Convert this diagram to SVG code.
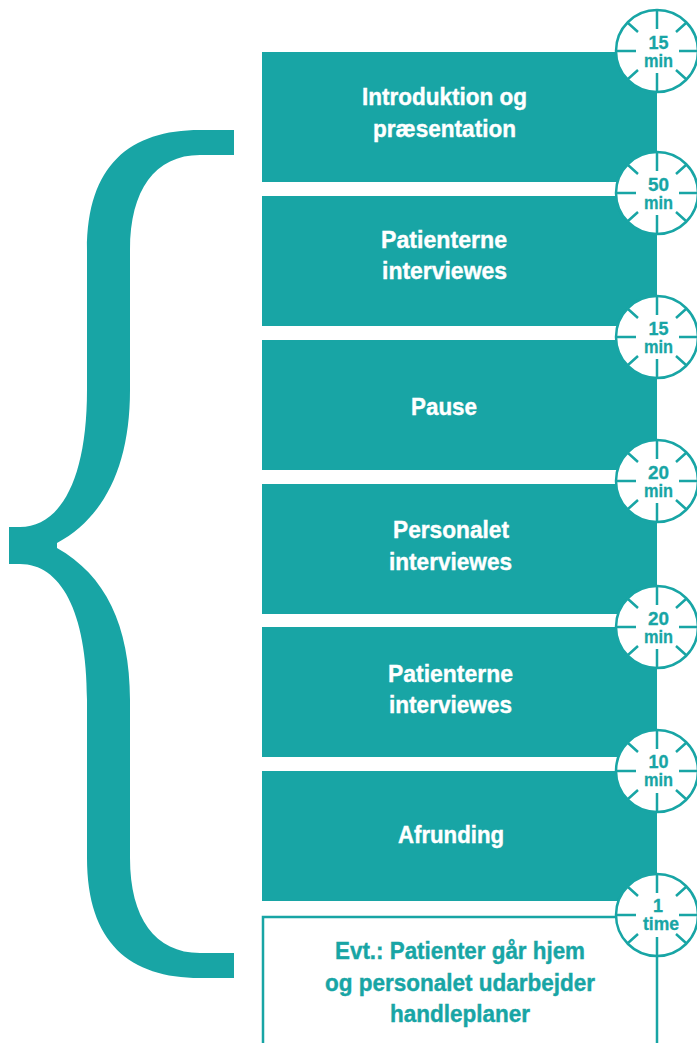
<svg xmlns="http://www.w3.org/2000/svg" xmlns:xlink="http://www.w3.org/1999/xlink" width="697" height="1043" viewBox="0 0 697 1043">
<style>
.b{fill:#18a5a5}
.t{font-family:"Liberation Sans",Arial,sans-serif;font-weight:700;font-size:24px;text-anchor:middle;fill:#fff;stroke:#fff;stroke-width:.4}
.g{fill:#18a5a5;stroke:#18a5a5}
.c{font-family:"Liberation Sans",Arial,sans-serif;font-weight:700;font-size:18px;text-anchor:middle;fill:#18a5a5;stroke:#18a5a5;stroke-width:.3}
.l{stroke:#18a5a5;stroke-width:2.5;fill:none}
</style>
<defs>
<g id="clock">
<circle r="41" fill="#fff" stroke="#18a5a5" stroke-width="2.5"/>
<path class="l" d="M0-41V-22M0 41V22M-41 0H-21M41 0H22M-29-28L-19-19M29-28L19-19M-29 28L-19 19M29 28L19 19"/>
</g>
</defs>
<rect width="697" height="1043" fill="#fff"/>
<g id="brace"><path class="b" d="M234 130H200C130 130 87 165 87 250V390C87 480 60 527 20 527H9V564H20C60 564 87 610 87 700V858C87 943 130 978 200 978H234V953H200C155 953 130 918 130 858V700C130 625 105 575 57 548V543C105 517 130 465 130 390V250C130 190 155 155 200 155H234Z"/></g>
<g id="n1"><rect class="b" x="262" y="52" width="395" height="130"/><text class="t" x="444.5" y="105" textLength="165" lengthAdjust="spacingAndGlyphs">Introduktion og</text><text class="t" x="444.5" y="137" textLength="143" lengthAdjust="spacingAndGlyphs">præsentation</text></g>
<g id="n2"><rect class="b" x="262" y="196" width="395" height="130"/><text class="t" x="444" y="248" textLength="126" lengthAdjust="spacingAndGlyphs">Patienterne</text><text class="t" x="444.5" y="279" textLength="125" lengthAdjust="spacingAndGlyphs">interviewes</text></g>
<g id="n3"><rect class="b" x="262" y="340" width="395" height="130"/><text class="t" x="444" y="415" textLength="66" lengthAdjust="spacingAndGlyphs">Pause</text></g>
<g id="n4"><rect class="b" x="262" y="484" width="395" height="130"/><text class="t" x="451" y="538" textLength="116" lengthAdjust="spacingAndGlyphs">Personalet</text><text class="t" x="450.5" y="570" textLength="123" lengthAdjust="spacingAndGlyphs">interviewes</text></g>
<g id="n5"><rect class="b" x="262" y="627" width="395" height="130"/><text class="t" x="450.5" y="682" textLength="125" lengthAdjust="spacingAndGlyphs">Patienterne</text><text class="t" x="450.5" y="713" textLength="123" lengthAdjust="spacingAndGlyphs">interviewes</text></g>
<g id="n6"><rect class="b" x="262" y="771" width="395" height="130"/><text class="t" x="451" y="843" textLength="106" lengthAdjust="spacingAndGlyphs">Afrunding</text></g>
<g id="n7"><path class="l" d="M263 1043V917H657V1043"/><text class="t g" x="460" y="959" textLength="250" lengthAdjust="spacingAndGlyphs">Evt.: Patienter går hjem</text><text class="t g" x="460" y="991" textLength="270" lengthAdjust="spacingAndGlyphs">og personalet udarbejder</text><text class="t g" x="460" y="1022" textLength="140" lengthAdjust="spacingAndGlyphs">handleplaner</text></g>
<g id="connectors"></g>
<g id="c1"><use xlink:href="#clock" x="657" y="51"/><text class="c" x="658.5" y="49" textLength="20" lengthAdjust="spacingAndGlyphs">15</text><text class="c" x="658.5" y="67" textLength="29" lengthAdjust="spacingAndGlyphs">min</text></g>
<g id="c2"><use xlink:href="#clock" x="657" y="193"/><text class="c" x="658.5" y="190.5" textLength="21" lengthAdjust="spacingAndGlyphs">50</text><text class="c" x="658.5" y="208.5" textLength="29" lengthAdjust="spacingAndGlyphs">min</text></g>
<g id="c3"><use xlink:href="#clock" x="657" y="337"/><text class="c" x="658.5" y="334.5" textLength="20" lengthAdjust="spacingAndGlyphs">15</text><text class="c" x="658.5" y="352.5" textLength="29" lengthAdjust="spacingAndGlyphs">min</text></g>
<g id="c4"><use xlink:href="#clock" x="657" y="481"/><text class="c" x="658.5" y="478.5" textLength="21" lengthAdjust="spacingAndGlyphs">20</text><text class="c" x="658.5" y="496.5" textLength="29" lengthAdjust="spacingAndGlyphs">min</text></g>
<g id="c5"><use xlink:href="#clock" x="657" y="627"/><text class="c" x="658.5" y="624.5" textLength="21" lengthAdjust="spacingAndGlyphs">20</text><text class="c" x="658.5" y="642.5" textLength="29" lengthAdjust="spacingAndGlyphs">min</text></g>
<g id="c6"><use xlink:href="#clock" x="657" y="771"/><text class="c" x="658.5" y="768" textLength="20" lengthAdjust="spacingAndGlyphs">10</text><text class="c" x="658.5" y="786" textLength="29" lengthAdjust="spacingAndGlyphs">min</text></g>
<g id="c7"><use xlink:href="#clock" x="657" y="915"/><text class="c" x="658" y="912" textLength="10" lengthAdjust="spacingAndGlyphs">1</text><text class="c" x="661" y="930" textLength="36" lengthAdjust="spacingAndGlyphs">time</text></g>
</svg>
